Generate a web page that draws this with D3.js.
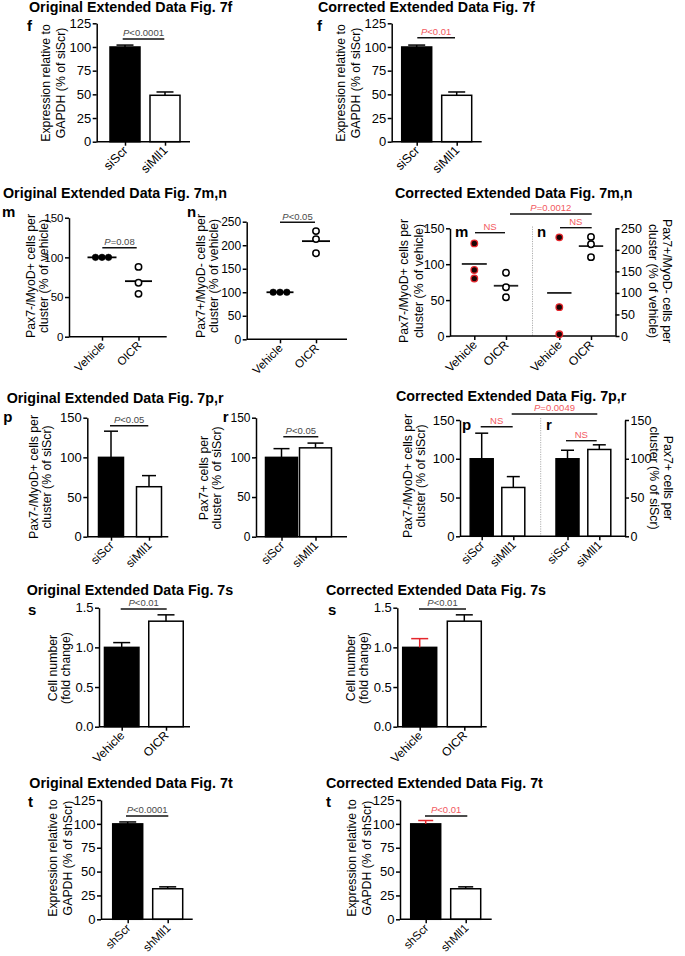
<!DOCTYPE html>
<html><head><meta charset="utf-8">
<script src="https://cdn.jsdelivr.net/npm/d3@7"></script>
<style>body{margin:0;background:#fff}svg{display:block}</style>
</head><body><svg id="c" width="685" height="956"></svg>
<script>
// ---------- DATA ----------
const fCategories = ["siScr", "siMll1"];
const fValues = [100, 49];
const fErrors = [2, 3.5];
const pct125Ticks = [0, 25, 50, 75, 100, 125];

const mnCategories = ["Vehicle", "OICR"];
const mVehicle = [100, 100, 100];
const mOICR = [88, 68, 54];
const nVehicle = [100, 100, 100];
const nOICR = [230, 213, 183];
const mVehicleCorrected = [129, 92, 80];
const nVehicleCorrected = [229, 67, 4];
const ticks150 = [0, 50, 100, 150];
const ticks250 = [0, 50, 100, 150, 200, 250];

const prCategories = ["siScr", "siMll1"];
const pValues = [100, 63];
const pErrors = [33, 14];
const rValues = [100, 112];
const rErrors = [11, 6];

const sCategories = ["Vehicle", "OICR"];
const sValues = [1.0, 1.33];
const sErrors = [0.06, 0.08];
const sErrorsCorrected = [0.11, 0.08];
const sTicks = [0, 0.5, 1.0, 1.5];

const tCategories = ["shScr", "shMll1"];
const tValues = [100, 32];
const tErrors = [2, 2];
const tErrorsCorrected = [3.5, 2];

// ---------- HELPERS ----------
const FONT = "'Liberation Sans', Arial, Helvetica, sans-serif";
const RED_TEXT = "#f25a5f";
const RED = "#e5262c";
const GREY_TEXT = "#4a4a4a";
const svg = d3.select("#c").attr("font-family", FONT);

function styleAxis(s, fs) {
  s.attr("font-family", FONT).attr("font-size", fs);
  s.selectAll(".domain").attr("stroke", "#000").attr("stroke-width", 1.5);
  s.selectAll(".tick line").attr("stroke", "#000").attr("stroke-width", 1.5);
  s.selectAll(".tick text").attr("fill", "#000");
}
function yAxis(y, ticks, axisX, side, fs, fmt) {
  const ax = (side === "right" ? d3.axisRight(y) : d3.axisLeft(y))
    .tickValues(ticks).tickSize(4).tickSizeOuter(0).tickPadding(1.5)
    .tickFormat(fmt || d3.format("d"));
  svg.append("g").attr("transform", `translate(${axisX},0)`).call(ax).call(s => styleAxis(s, fs));
}
function xAxisLine(y0, x1, x2) {
  svg.append("line").attr("x1", x1).attr("x2", x2).attr("y1", y0).attr("y2", y0)
    .attr("stroke", "#000").attr("stroke-width", 1.5);
}
function xTicks(x, y0, fs) {
  const ag = svg.append("g").attr("transform", `translate(0,${y0})`)
    .call(d3.axisBottom(x).tickSize(4).tickSizeOuter(0).tickFormat(""));
  ag.select(".domain").remove();
  ag.selectAll(".tick line").attr("stroke", "#000").attr("stroke-width", 1.5);
  svg.append("g").selectAll("text").data(x.domain()).join("text")
    .attr("transform", d => `translate(${x(d) + 3.5},${y0 + 9.5}) rotate(-45)`)
    .attr("text-anchor", "end").attr("font-size", fs || 12).attr("fill", "#000")
    .text(d => d.split(":").pop());
}
function title(t, x, y) {
  svg.append("text").attr("x", x).attr("y", y).attr("font-size", 14.3)
    .attr("font-weight", "bold").attr("fill", "#000").text(t);
}
function letter(t, x, y) {
  svg.append("text").attr("x", x).attr("y", y).attr("font-size", 15)
    .attr("font-weight", "900").attr("fill", "#000").text(t);
}
function ylabel(lines, x, yc, rot, sp) {
  const t = svg.append("text").attr("transform", `translate(${x},${yc}) rotate(${rot})`)
    .attr("text-anchor", "middle").attr("font-size", 12.3).attr("fill", "#000");
  lines.forEach((l, i) => t.append("tspan").attr("x", 0).attr("dy", i === 0 ? 0 : sp).text(l));
}
function annot(x1, x2, yl, txt, color) {
  svg.append("line").attr("x1", x1).attr("x2", x2).attr("y1", yl).attr("y2", yl)
    .attr("stroke", "#111").attr("stroke-width", 1.4);
  const t = svg.append("text").attr("x", (x1 + x2) / 2).attr("y", yl - 2.8)
    .attr("text-anchor", "middle").attr("font-size", 9.5).attr("fill", color);
  if (txt.startsWith("P")) {
    t.append("tspan").attr("font-style", "italic").text("P");
    t.append("tspan").text(txt.slice(1));
  } else t.text(txt);
}
function bars(x, y, cats, vals, errs, w, capW, errColors) {
  const y0 = y(0);
  const data = cats.map((c, i) => ({c, v: vals[i], e: errs[i], col: errColors ? errColors[i] : "#000", i}));
  svg.append("g").selectAll("rect").data(data).join("rect")
    .attr("x", d => x(d.c) - w / 2).attr("y", d => y(d.v))
    .attr("width", w).attr("height", d => y0 - y(d.v))
    .attr("fill", d => d.i === 0 ? "#000" : "#fff").attr("stroke", "#000").attr("stroke-width", 1.5);
  const eg = svg.append("g");
  eg.selectAll("line.v").data(data).join("line").attr("class", "v")
    .attr("x1", d => x(d.c)).attr("x2", d => x(d.c))
    .attr("y1", d => y(d.v)).attr("y2", d => y(d.v + d.e))
    .attr("stroke", d => d.col).attr("stroke-width", 1.5);
  eg.selectAll("line.c").data(data).join("line").attr("class", "c")
    .attr("x1", d => x(d.c) - capW / 2).attr("x2", d => x(d.c) + capW / 2)
    .attr("y1", d => y(d.v + d.e)).attr("y2", d => y(d.v + d.e))
    .attr("stroke", d => d.col).attr("stroke-width", 1.5);
}
function dots(cx, y, vals, kind, spread) {
  const g = svg.append("g");
  g.selectAll("circle").data(vals).join("circle")
    .attr("cx", (d, i) => cx + (spread ? (i - 1) * spread : 0))
    .attr("cy", d => y(d)).attr("r", kind === "open" ? 3.2 : 3.3)
    .attr("fill", kind === "open" ? "#fff" : (kind === "red" ? "#1a0505" : "#000"))
    .attr("stroke", kind === "red" ? RED : "#000")
    .attr("stroke-width", kind === "open" ? 1.5 : (kind === "red" ? 1.3 : 0.5));
}
function meanLine(cx, y, vals, half, color) {
  const m = d3.mean(vals);
  svg.append("line").attr("x1", cx - half).attr("x2", cx + half)
    .attr("y1", y(m)).attr("y2", y(m)).attr("stroke", color || "#000").attr("stroke-width", 1.8);
}
function divider(x, y1, y2) {
  svg.append("line").attr("x1", x).attr("x2", x).attr("y1", y1).attr("y2", y2)
    .attr("stroke", "#999").attr("stroke-width", 0.8).attr("stroke-dasharray", "1.2,1.2");
}

// ---------- ROW 1: Fig 7f ----------
title("Original Extended Data Fig. 7f", 29, 12);
letter("f", 27, 31);
{
  const y = d3.scaleLinear().domain([0, 125]).range([141.7, 23.3]);
  const x = d3.scalePoint().domain(fCategories).range([125, 165]);
  bars(x, y, fCategories, fValues, fErrors, 30, 17);
  yAxis(y, pct125Ticks, 96.7, "left", 13);
  xAxisLine(y(0), 96.7, 190);
  xTicks(x, y(0), 12.5);
  annot(122.7, 164.3, 39, "P<0.0001", GREY_TEXT);
  ylabel(["Expression relative to", "GAPDH (% of siScr)"], 50, 83, -90, 15);
}
title("Corrected Extended Data Fig. 7f", 318, 12);
letter("f", 317, 31);
{
  const y = d3.scaleLinear().domain([0, 125]).range([141.7, 23.3]);
  const x = d3.scalePoint().domain(fCategories).range([416.7, 456.7]);
  bars(x, y, fCategories, fValues, fErrors, 30, 17);
  yAxis(y, pct125Ticks, 391.7, "left", 13);
  xAxisLine(y(0), 391.7, 481.7);
  xTicks(x, y(0), 12.5);
  annot(417.3, 455, 37.7, "P<0.01", RED_TEXT);
  ylabel(["Expression relative to", "GAPDH (% of siScr)"], 345, 83, -90, 15);
}

// ---------- ROW 2: Fig 7m,n ----------
title("Original Extended Data Fig. 7m,n", 3, 198);
letter("m", 2, 217.3);
{
  const y = d3.scaleLinear().domain([0, 150]).range([336.7, 217.7]);
  const x = d3.scalePoint().domain(mnCategories).range([102, 138.5]);
  yAxis(y, ticks150, 69, "left", 11.5);
  xAxisLine(y(0), 69, 166.7);
  xTicks(x, y(0), 11.5);
  meanLine(x("Vehicle"), y, mVehicle, 14.5);
  dots(x("Vehicle"), y, mVehicle, "filled", 6.5);
  meanLine(x("OICR"), y, mOICR, 13.5);
  dots(x("OICR"), y, mOICR, "open");
  annot(102.3, 136.7, 247.7, "P=0.08", GREY_TEXT);
  ylabel(["Pax7-/MyoD+ cells per", "cluster (% of vehicle)"], 34.5, 276, -90, 13);
}
letter("n", 187, 217.3);
{
  const y = d3.scaleLinear().domain([0, 250]).range([339.3, 221.7]);
  const x = d3.scalePoint().domain(mnCategories).range([280, 316]);
  yAxis(y, ticks250, 246.7, "left", 12);
  xAxisLine(y(0), 246.7, 347);
  xTicks(x, y(0), 11.5);
  meanLine(x("Vehicle"), y, nVehicle, 13.5);
  dots(x("Vehicle"), y, nVehicle, "filled", 6.8);
  meanLine(x("OICR"), y, nOICR, 14);
  dots(x("OICR"), y, nOICR, "open");
  annot(280, 315, 222.3, "P<0.05", GREY_TEXT);
  ylabel(["Pax7+/MyoD- cells per", "cluster (% of vehicle)"], 204.5, 276, -90, 13);
}
title("Corrected Extended Data Fig. 7m,n", 395, 198);
{
  const yL = d3.scaleLinear().domain([0, 150]).range([336, 228.3]);
  const yR = d3.scaleLinear().domain([0, 250]).range([336, 228.3]);
  const xm = d3.scalePoint().domain(mnCategories.map(c => "m:" + c)).range([474.3, 506]);
  const xn = d3.scalePoint().domain(mnCategories.map(c => "n:" + c)).range([559.3, 591]);
  divider(532.5, 226.5, 336);
  yAxis(yL, ticks150, 450, "left", 12.5);
  yAxis(yR, ticks250, 615.5, "right", 12.5);
  xAxisLine(yL(0), 450, 615.5);
  xTicks(xm, yL(0), 12);
  xTicks(xn, yL(0), 12);
  meanLine(xm("m:Vehicle"), yL, mVehicleCorrected, 12.5, "#222");
  dots(xm("m:Vehicle"), yL, mVehicleCorrected, "red");
  meanLine(xm("m:OICR"), yL, mOICR, 12.2, "#222");
  dots(xm("m:OICR"), yL, mOICR, "open");
  meanLine(xn("n:Vehicle"), yR, nVehicleCorrected, 12.2, "#222");
  dots(xn("n:Vehicle"), yR, nVehicleCorrected, "red");
  meanLine(xn("n:OICR"), yR, nOICR, 12.2, "#222");
  dots(xn("n:OICR"), yR, nOICR, "open");
  letter("m", 455, 237.3);
  letter("n", 537, 237.3);
  annot(475, 505, 232.7, "NS", RED_TEXT);
  annot(560, 591.7, 227.7, "NS", RED_TEXT);
  annot(510, 591.7, 214, "P=0.0012", RED_TEXT);
  ylabel(["Pax7-/MyoD+ cells per", "cluster (% of vehicle)"], 408, 281, -90, 15);
  ylabel(["Pax7+/MyoD- cells per", "cluster (% of vehicle)"], 663, 281, 90, 14.5);
}

// ---------- ROW 3: Fig 7p,r ----------
title("Original Extended Data Fig. 7p,r", 6.7, 402.5);
letter("p", 3.3, 421.7);
{
  const y = d3.scaleLinear().domain([0, 150]).range([536.7, 417.7]);
  const x = d3.scalePoint().domain(prCategories).range([111, 149]);
  bars(x, y, prCategories, pValues, pErrors, 25, 14);
  yAxis(y, ticks150, 87.3, "left", 13);
  xAxisLine(y(0), 87.3, 168.3);
  xTicks(x, y(0), 12);
  annot(110, 148.3, 425.7, "P<0.05", GREY_TEXT);
  ylabel(["Pax7-/MyoD+ cells per", "cluster (% of siScr)"], 38.3, 477, -90, 12.5);
}
letter("r", 222.7, 421.7);
{
  const y = d3.scaleLinear().domain([0, 150]).range([536.7, 417.7]);
  const x = d3.scalePoint().domain(prCategories).range([281.5, 315.5]);
  bars(x, y, prCategories, rValues, rErrors, 32, 16);
  yAxis(y, ticks150, 256, "left", 12);
  xAxisLine(y(0), 256, 347);
  xTicks(x, y(0), 12);
  annot(283.3, 318.3, 436.7, "P<0.05", GREY_TEXT);
  ylabel(["Pax7+ cells per", "cluster (% of siScr)"], 208.3, 478, -90, 12.5);
}
title("Corrected Extended Data Fig. 7p,r", 396, 400.7);
{
  const y = d3.scaleLinear().domain([0, 150]).range([536.3, 420]);
  const xp = d3.scalePoint().domain(prCategories.map(c => "p:" + c)).range([481.7, 513.3]);
  const xr = d3.scalePoint().domain(prCategories.map(c => "r:" + c)).range([567.5, 599.3]);
  divider(540.7, 418, 536.3);
  bars(xp, y, xp.domain(), pValues, pErrors, 23, 13);
  bars(xr, y, xr.domain(), rValues, rErrors, 23, 13);
  yAxis(y, ticks150, 460, "left", 13);
  yAxis(y, ticks150, 625, "right", 12.5);
  xAxisLine(y(0), 460, 625);
  xTicks(xp, y(0), 12);
  xTicks(xr, y(0), 12);
  letter("p", 462, 430);
  letter("r", 546, 430);
  annot(480.7, 512.7, 426.7, "NS", RED_TEXT);
  annot(566, 596.7, 440.7, "NS", RED_TEXT);
  annot(511.7, 597.3, 414, "P=0.0049", RED_TEXT);
  ylabel(["Pax7-/MyoD+ cells per", "cluster (% of siScr)"], 411.7, 476, -90, 13.3);
  ylabel(["Pax7+ cells per", "cluster (% of siScr)"], 664, 478, 90, 14);
}

// ---------- ROW 4: Fig 7s ----------
title("Original Extended Data Fig. 7s", 26.7, 595);
letter("s", 28, 615);
{
  const y = d3.scaleLinear().domain([0, 1.5]).range([726.7, 607.7]);
  const x = d3.scalePoint().domain(sCategories).range([121.7, 166]);
  bars(x, y, sCategories, sValues, sErrors, 34.5, 17);
  yAxis(y, sTicks, 99, "left", 13, d3.format(".1f"));
  xAxisLine(y(0), 99, 190);
  xTicks(x, y(0), 12);
  annot(120.7, 166.7, 609, "P<0.01", GREY_TEXT);
  ylabel(["Cell number", "(fold change)"], 56.7, 668, -90, 13);
}
title("Corrected Extended Data Fig. 7s", 326, 595);
letter("s", 328, 615);
{
  const y = d3.scaleLinear().domain([0, 1.5]).range([726.7, 607.7]);
  const x = d3.scalePoint().domain(sCategories).range([419.7, 464.3]);
  bars(x, y, sCategories, sValues, sErrorsCorrected, 34, 17, [RED, "#000"]);
  yAxis(y, sTicks, 397.3, "left", 13, d3.format(".1f"));
  xAxisLine(y(0), 397.3, 486.7);
  xTicks(x, y(0), 12);
  annot(419, 466, 609, "P<0.01", GREY_TEXT);
  ylabel(["Cell number", "(fold change)"], 355, 668, -90, 13);
}

// ---------- ROW 5: Fig 7t ----------
title("Original Extended Data Fig. 7t", 29.3, 788);
letter("t", 28, 806.7);
{
  const y = d3.scaleLinear().domain([0, 125]).range([919.3, 800]);
  const x = d3.scalePoint().domain(tCategories).range([127.7, 167.7]);
  bars(x, y, tCategories, tValues, tErrors, 30, 17);
  yAxis(y, pct125Ticks, 101, "left", 13);
  xAxisLine(y(0), 101, 192.7);
  xTicks(x, y(0), 11.5);
  annot(126, 168.3, 816, "P<0.0001", GREY_TEXT);
  ylabel(["Expression relative to", "GAPDH (% of shScr)"], 56.7, 858, -90, 15);
}
title("Corrected Extended Data Fig. 7t", 326, 788);
letter("t", 326, 806.7);
{
  const y = d3.scaleLinear().domain([0, 125]).range([919.3, 800]);
  const x = d3.scalePoint().domain(tCategories).range([425.7, 465.7]);
  bars(x, y, tCategories, tValues, tErrorsCorrected, 30, 15, [RED, "#000"]);
  yAxis(y, pct125Ticks, 400, "left", 13);
  xAxisLine(y(0), 400, 491.7);
  xTicks(x, y(0), 11.5);
  annot(425, 467.3, 816, "P<0.01", RED_TEXT);
  ylabel(["Expression relative to", "GAPDH (% of shScr)"], 355.7, 858, -90, 15);
}
</script></body></html>
